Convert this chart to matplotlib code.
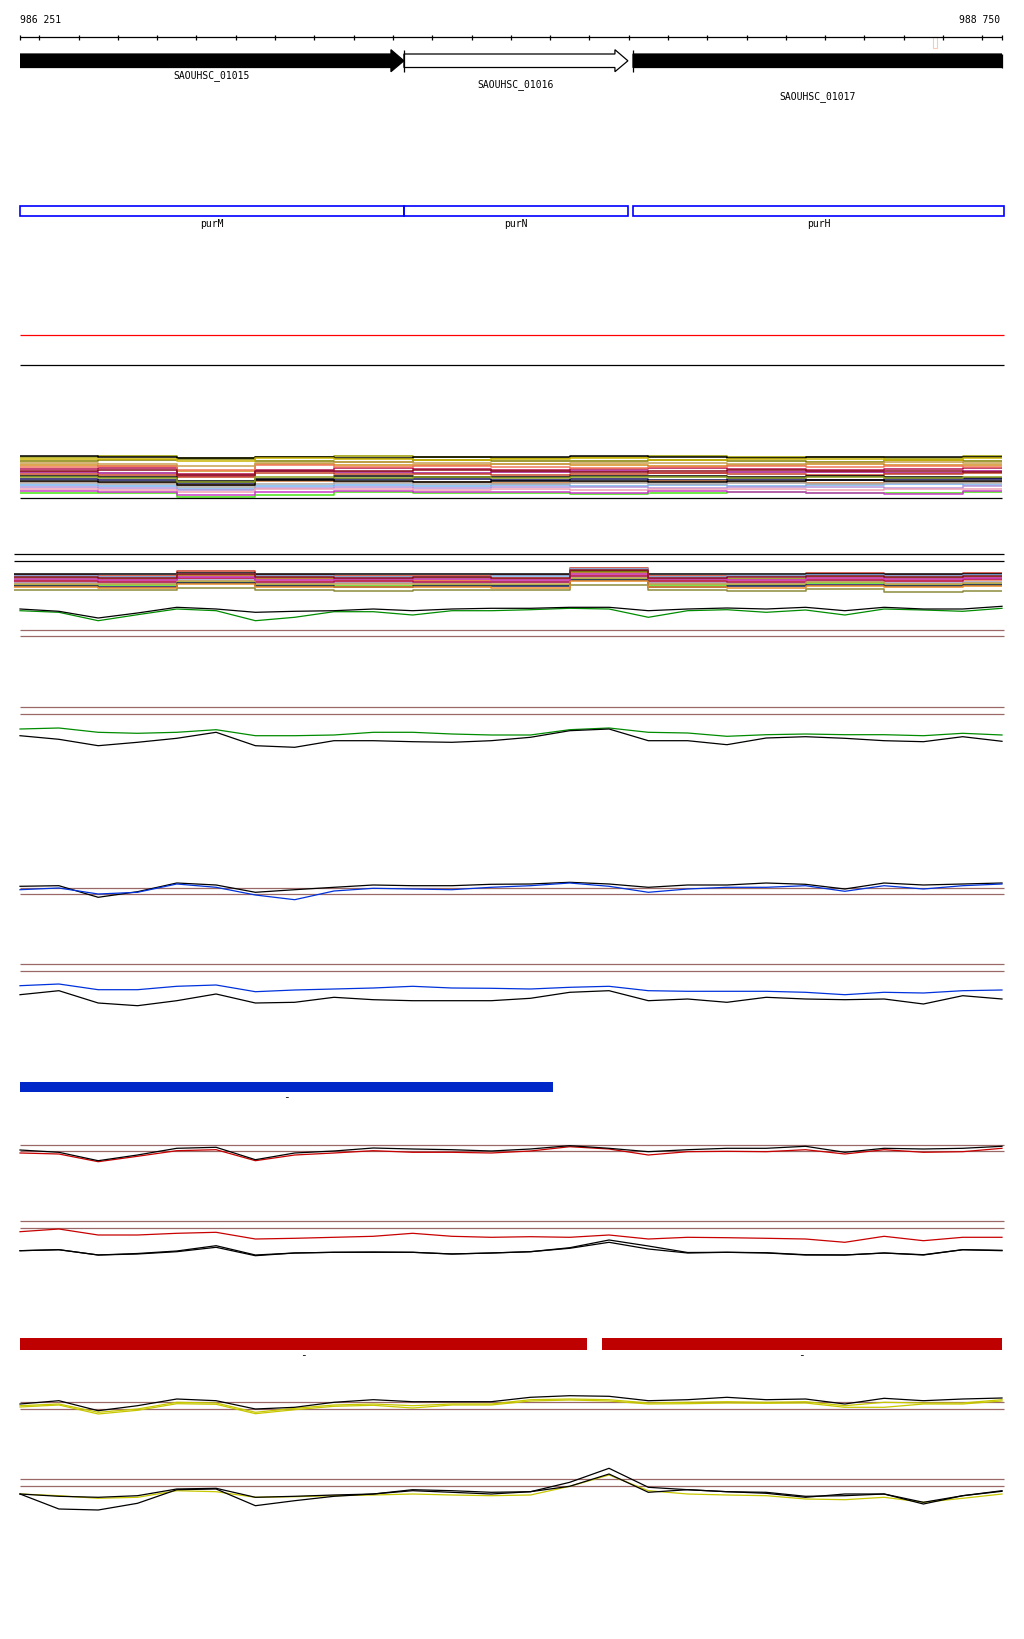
import matplotlib.pyplot as plt
from matplotlib.patches import Polygon, Rectangle

plt.rcParams['font.family'] = ['DejaVu Sans Mono', 'DejaVu Sans']

# ----------
# Data
# ----------
START, END = 986251, 988750

# ruler ticks (every 100 bp)
ticks = [986251, 986300, 986400, 986500, 986600, 986700, 986800, 986900, 987000,
         987100, 987200, 987300, 987400, 987500, 987600, 987700, 987800, 987900,
         988000, 988100, 988200, 988300, 988400, 988500, 988600, 988700, 988750]

# genes
gene_names = ["SAOUHSC_01015", "SAOUHSC_01016", "SAOUHSC_01017"]
gene_start = [986100, 987228, 987811]
gene_end = [987228, 987798, 988900]
gene_fill = ["black", "white", "black"]
operon_names = ["purM", "purN", "purH"]
operon_start = [986251, 987228, 987811]
operon_end = [987228, 987798, 988755]

# annotation bars
blue_bar = [(986251, 987607)]
red_bars = [(986251, 987694), (987731, 988750)]

# signal tracks, sampled every 100 bp
pos = [986251, 986350, 986450, 986550, 986650, 986750, 986850, 986950, 987050,
       987150, 987250, 987350, 987450, 987550, 987650, 987750, 987850, 987950,
       988050, 988150, 988250, 988350, 988450, 988550, 988650, 988750]

a_black = [15, 12.7, 6, 11, 16.7, 15, 11.7, 12.7, 13.3, 15, 13.3, 15, 15.7, 15.7, 16.7,
           16.7, 13.3, 15, 16, 15, 16.7, 13.3, 16.7, 15, 15, 17.7]
a_green = [13.3, 11.7, 3.3, 9.3, 15, 13.3, 3.3, 6.7, 12.3, 12.3, 9, 13.3, 13.3, 14.3, 15.7,
           15, 6.7, 13.3, 14.3, 11.7, 14, 9, 15, 14, 12.7, 15.7]

b_green = [20, 21, 16.7, 15.7, 16.7, 19.3, 13.3, 13.3, 14, 16.7, 16.7, 15, 14, 14, 19.3,
           21, 16.7, 16, 12.7, 14.3, 15, 14.3, 14.3, 13.3, 15.7, 14]
b_black = [13.3, 9.7, 3.3, 6.7, 10.7, 16.7, 3.3, 1.7, 8.3, 8.3, 7.3, 6.7, 8.3, 11.7, 18.3,
           20, 8.3, 8.3, 4.3, 11, 12.3, 10.7, 8.3, 7.3, 12.3, 7.7]

c_black = [17.7, 18.3, 6.7, 12.3, 21, 19, 11.7, 14.3, 16.7, 19, 18.3, 18.3, 19.7, 20, 21.7,
           20, 16.7, 19, 19, 21, 19.7, 15, 21, 19, 20, 21]
c_blue = [14.3, 16, 10, 11.7, 20, 16.7, 9, 4.3, 13, 15.7, 15, 14.3, 16.7, 18.3, 21, 17.7,
          11.7, 15, 16.7, 16.7, 18.3, 12.7, 18.3, 15, 18.3, 20]

d_blue = [25.3, 27, 21.3, 21.3, 24.7, 26, 19.3, 21, 22, 23, 24.7, 23, 22.7, 22, 23.7, 24.7,
          20.3, 19.7, 19.7, 19.7, 18.7, 16.3, 18.7, 18, 20.3, 21]
d_black = [16.3, 20.3, 8, 5.3, 10.3, 17, 8, 8.7, 13.7, 11.3, 10.3, 10.3, 10.3, 12.7, 18.7,
           20.3, 10.3, 12, 8.7, 13.7, 12, 11.3, 12, 7, 15.3, 12]

e_black = [15, 12.7, 4.3, 10, 16.7, 17.7, 5.3, 12, 14, 17, 16, 15.3, 14, 16, 19.3, 16.7,
           13.3, 15.3, 16.7, 16.7, 18.7, 12.7, 16.7, 16, 16.7, 18.7]
e_red = [12, 11, 3.3, 8.7, 14.3, 15.3, 4.3, 10, 12, 14.3, 12.7, 12.7, 12, 14, 18.3, 16,
         10, 13.3, 13.7, 13.3, 15.3, 11, 15.3, 12.7, 13.3, 16.7]

f_red = [29.3, 32, 26, 26, 27.7, 28.7, 22, 22.7, 23.7, 24.7, 27.7, 24.7, 23.7, 24.3, 23.7,
         26, 22, 23.7, 23.3, 22.7, 22, 18.7, 24.7, 20.3, 23.7, 23.7]
f_black = [10.3, 11.3, 6, 7, 9.3, 13.7, 5.3, 8, 8.7, 8.7, 8.7, 7, 8, 9.3, 12.7, 18.7, 12,
           8, 8.7, 8, 6, 6, 8, 6, 11.3, 10.3]
f_black2 = [10.3, 11.3, 6, 7.5, 10, 15.3, 6, 8, 8.7, 9, 8.7, 7, 8, 9.3, 13.3, 21, 15,
            8.5, 8.7, 8.3, 6.3, 6, 8, 6.3, 11.3, 10.7]

g_black = [15, 18.3, 8.3, 13.3, 20, 18.3, 10, 11.7, 16.7, 19.3, 17.3, 17.3, 17.3, 21.7, 23.3,
           22.7, 18.3, 19.3, 21.7, 19.3, 20, 15, 20.7, 18.3, 20, 21]
g_yellow = [13.3, 15, 6.7, 10, 16.7, 16, 6.7, 10.7, 14, 15, 13.3, 15, 15, 19.3, 20, 19.3,
            16, 16.7, 17.3, 16.7, 17.3, 13.3, 16.7, 16, 16, 19.3]
g_yellow2 = [12, 14, 5, 8.7, 15.3, 14.7, 5.3, 9.3, 12.7, 13.7, 11, 14, 14, 18, 19, 18, 15,
             15.3, 16, 15.7, 16, 11.7, 11.7, 15, 15, 18]

h_black = [20, 17.7, 16.7, 18.3, 25, 25.7, 16.7, 17.7, 19, 20, 24.3, 23.3, 21.7, 22.3, 27.7,
           40, 21.7, 24.3, 22.3, 21.7, 17.7, 18.3, 20, 11.7, 18.3, 23.3]
h_black2 = [20, 5, 4, 10.7, 24.3, 25, 8.3, 13.3, 17.7, 20, 23.3, 21.7, 20, 22.3, 31.7, 45.7,
            26.7, 24.3, 22.3, 20.7, 16.7, 20, 20, 10, 18.3, 22.7]
h_yellow = [20, 18.3, 15.7, 16.7, 23.3, 22.3, 16.7, 17.3, 18.3, 19, 20, 19, 18.3, 19, 27.7,
            39, 23.3, 20, 19, 18.3, 15, 14.3, 16.7, 11.7, 15.7, 20]

# multi-sample bands, levels at every 200 bp
anchors = [986251, 986450, 986650, 986850, 987050, 987250, 987450, 987650, 987850,
           988050, 988250, 988450, 988650]

band1_colors = ["#999900", "#808000", "black", "#d28c1e", "#b41450", "#a0148c", "#c84628",
                "black", "#14145a", "#c87837", "#78b4f0", "#b496dc", "#f0a0b4", "#46e614",
                "#c83cc8", "#f0785a", "#c8a050", "#c8b400", "#aaaaaa", "#8c0f1e", "black",
                "#8ca020"]
band1_levels = [
    [44, 45, 43, 44, 45, 44, 43, 44, 45, 44, 44, 43, 45],
    [40, 41, 42, 40, 39, 41, 40, 40, 41, 40, 39, 41, 40],
    [45, 44, 43, 44, 43, 44, 44, 45, 44, 43, 44, 44, 44],
    [36, 35, 30, 37, 36, 36, 37, 36, 35, 36, 37, 36, 36],
    [32, 33, 27, 31, 33, 32, 31, 32, 33, 32, 31, 32, 33],
    [29, 28, 25, 30, 29, 28, 29, 30, 28, 29, 29, 28, 30],
    [27, 26, 24, 28, 27, 27, 26, 27, 28, 27, 26, 27, 28],
    [25, 24, 20, 22, 25, 24, 24, 25, 25, 24, 25, 24, 23],
    [22, 21, 18, 21, 22, 22, 21, 22, 21, 22, 21, 22, 22],
    [19, 18, 16, 20, 19, 19, 18, 19, 20, 19, 18, 19, 19],
    [16, 15, 12, 15, 16, 15, 16, 15, 16, 15, 16, 17, 16],
    [14, 13, 11, 13, 14, 13, 14, 14, 13, 14, 14, 13, 15],
    [12, 11, 9, 12, 12, 11, 12, 11, 12, 12, 11, 12, 12],
    [8, 8, 4, 6, 9, 8, 8, 7, 8, 9, 8, 8, 9],
    [10, 9, 6, 9, 10, 9, 9, 8, 10, 9, 8, 7, 10],
    [34, 35, 31, 36, 34, 35, 34, 33, 34, 35, 34, 35, 34],
    [38, 37, 35, 38, 39, 38, 37, 38, 38, 37, 38, 39, 38],
    [42, 42, 40, 43, 42, 41, 42, 43, 41, 42, 42, 41, 43],
    [18, 17, 14, 17, 18, 17, 17, 18, 17, 18, 17, 18, 18],
    [30, 31, 26, 30, 30, 31, 30, 29, 30, 31, 30, 30, 29],
    [20, 19, 16, 21, 20, 19, 20, 20, 19, 20, 21, 20, 20],
    [24, 23, 19, 24, 23, 24, 23, 24, 24, 23, 24, 23, 24],
]

band2_colors = ["#c83c28", "black", "#78b4f0", "#8c8c00", "#c87837", "#f0785a", "#a0a0c8",
                "#50dc14", "#b41450", "#c8a050", "#14145a", "#8c8c3c", "#e68c28", "#c83cc8",
                "#8c0f1e"]
band2_levels = [
    [20, 19, 24, 20, 19, 19, 20, 27, 19, 19, 22, 20, 22],
    [21, 21, 22, 21, 21, 21, 21, 24, 21, 21, 21, 21, 21],
    [19, 18, 21, 19, 18, 18, 19, 26, 18, 19, 20, 19, 20],
    [17, 16, 20, 17, 16, 17, 16, 23, 16, 16, 18, 17, 18],
    [15, 15, 19, 16, 15, 15, 16, 22, 15, 15, 17, 16, 17],
    [13, 14, 17, 14, 13, 14, 14, 20, 13, 14, 15, 14, 15],
    [12, 12, 15, 12, 12, 12, 13, 18, 12, 12, 14, 12, 13],
    [10, 10, 13, 10, 9, 10, 10, 16, 10, 10, 12, 10, 11],
    [14, 13, 17, 13, 14, 13, 13, 19, 14, 13, 15, 14, 16],
    [11, 11, 14, 11, 11, 11, 11, 17, 11, 11, 13, 11, 12],
    [9, 8, 12, 9, 8, 9, 9, 15, 8, 9, 10, 9, 10],
    [5, 5, 7, 5, 4, 5, 5, 10, 5, 4, 6, 3, 4],
    [8, 7, 11, 8, 8, 8, 7, 14, 8, 7, 9, 8, 9],
    [16, 15, 18, 15, 16, 16, 15, 21, 16, 15, 17, 16, 17],
    [18, 17, 21, 18, 17, 18, 17, 25, 17, 18, 19, 18, 19],
]

# ----------
# Figure: x in bp, y in page rows (top = 0)
# ----------
PPB = 982 / (END - START)   # pixels per bp
fig = plt.figure(figsize=(10.24, 16.4), dpi=100)
ax = fig.add_axes([0, 0, 1, 1])
ax.set_xlim(START - 20 / PPB, START + 1004 / PPB)
ax.set_ylim(1640, 0)
ax.axis("off")

LW = 0.9
BROWN = "#9b6868"
R = END + 5  # right edge of tracks

# ruler
ax.text(START, 20, "986 251", fontsize=7, ha="left", va="center")
ax.text(END - 5, 20, "988 750", fontsize=7, ha="right", va="center")
ax.hlines(38.3, START, END, color="black", lw=LW)
ax.vlines(ticks, 36, 41, color="black", lw=LW)
ax.add_patch(Rectangle((988574, 37.5), 10, 11, fill=False, ec="#f5ccb8", lw=0.8))

# genes
label_rows = [76, 85, 97]
head = 33
for i in range(len(gene_names)):
    s, e = gene_start[i], gene_end[i]
    hs = e - head
    pts = [(s, 55), (hs, 55), (hs, 50.7), (e, 61.8), (hs, 72.7), (hs, 68.5), (s, 68.5)]
    p = Polygon(pts, closed=True, fc=gene_fill[i], ec="black", lw=LW)
    ax.add_patch(p)
    vs, ve = max(s, START), min(e, END)
    if s > START:
        ax.vlines(s, 50.7, 72.7, color="black", lw=LW)
    ax.text((vs + ve) / 2, label_rows[i], gene_names[i], fontsize=7, ha="center", va="center")
# clip what runs past the view
ax.add_patch(Rectangle((START - 400, 45), 400, 35, fc="white", ec="none", zorder=3))
ax.add_patch(Rectangle((END, 45), 400, 35, fc="white", ec="none", zorder=3))
ax.vlines(END, 55, 68.5, color="black", lw=LW, zorder=4)

# operons
for i in range(len(operon_names)):
    s, e = operon_start[i], operon_end[i]
    ax.add_patch(Rectangle((s, 207), e - s, 9.5, fill=False, ec="#0000ff", lw=1.2))
    ax.text((s + e) / 2, 224, operon_names[i], fontsize=7, ha="center", va="center")

ax.hlines(335.8, START, R, color="#ff0000", lw=LW)
ax.hlines(366, START, R, color="black", lw=LW)


def band(colors, levels, base, x0):
    xs = [x0] + anchors[1:] + [END]
    for c, lv in zip(colors, levels):
        ys = [base - v for v in lv] + [base - lv[-1]]
        ax.plot(xs, ys, color=c, lw=1.1, drawstyle="steps-post", solid_capstyle="butt")


band(band1_colors, band1_levels, 502, START)
ax.hlines(499.3, START, END, color="black", lw=LW)

X14 = START - 6 / PPB
ax.hlines([555, 562.3], X14, R, color="black", lw=LW)
band(band2_colors, band2_levels, 596, X14)


def track(base, series, colors, refs=None):
    if refs:
        ax.hlines(refs, START, R, color=BROWN, lw=LW)
    for vals, c in zip(series, colors):
        ax.plot(pos, [base - v for v in vals], color=c, lw=LW)


GREEN, BLUE, RED, YEL = "#008c00", "#0032dc", "#c80000", "#c8c800"
track(625, [a_green, a_black], [GREEN, "black"], [630.5, 637.3])
track(750, [b_green, b_black], [GREEN, "black"], [708.3, 715])
track(905, [c_black, c_blue], ["black", BLUE], [888.7, 895.3])
track(1012, [d_blue, d_black], [BLUE, "black"], [965.3, 972.3])

for s, e in blue_bar:
    ax.add_patch(Rectangle((s, 1082.6), e - s, 10.4, fc="#0028c8", ec="none"))
    ax.text((s + e) / 2, 1097.5, "-", fontsize=8, ha="center", va="center")

track(1166, [e_red, e_black], [RED, "black"], [1145.7, 1152.3])
track(1262, [f_red, f_black, f_black2], [RED, "black", "black"], [1222.3, 1229.3])

for s, e in red_bars:
    ax.add_patch(Rectangle((s, 1339), e - s, 11.5, fc="#be0000", ec="none"))
    ax.text((s + e) / 2, 1355.5, "-", fontsize=8, ha="center", va="center")

track(1420, [g_yellow2, g_yellow, g_black], [YEL, YEL, "black"], [1403.3, 1410.3])
track(1515, [h_yellow, h_black2, h_black], [YEL, "black", "black"], [1480, 1487.3])

fig.savefig("out.png", dpi=100)
